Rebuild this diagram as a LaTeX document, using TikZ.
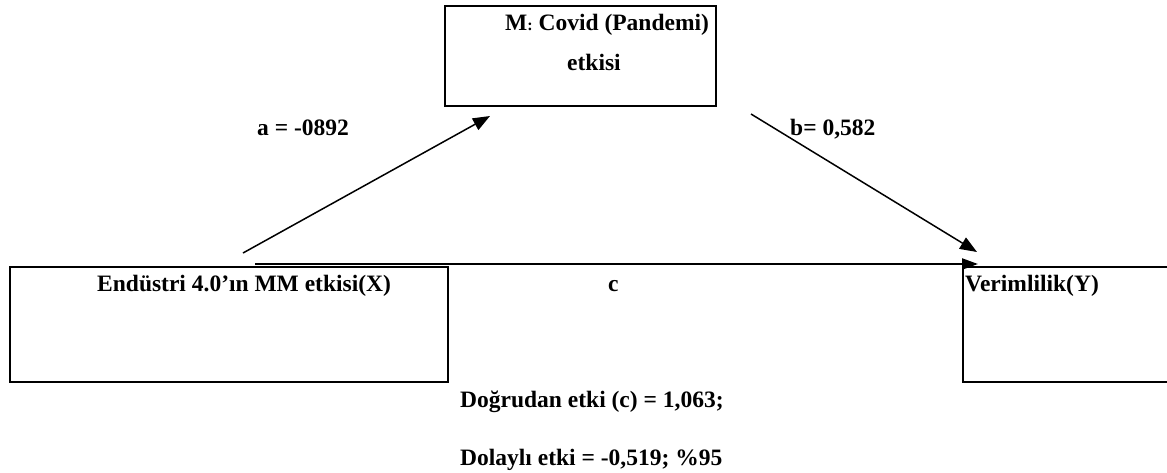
\documentclass[tikz,border=0pt]{standalone}
\usepackage{fontspec}
\setmainfont{Liberation Serif}
\usetikzlibrary{arrows.meta}
\usetikzlibrary{positioning}

\begin{document}
\begin{tikzpicture}[x=1pt,y=-1pt,
->,>={Triangle[length=17pt,width=13pt]},
box/.style = {rectangle, draw=black, line width=2.2pt, inner sep=0pt, anchor=north west},
txt/.style = {anchor=base west, inner sep=0pt, font=\fontsize{23.5}{28}\selectfont\bfseries},
path_ab/.style = {line width=1.5pt},
path_c/.style = {line width=2.2pt}
]
\useasboundingbox (0,0) rectangle (1167,472);

\node (M) [box, minimum width=271pt, minimum height=100pt] at (444,5) {};
\node (X) [box, minimum width=438pt, minimum height=115pt] at (9,266) {};
\node (Y) [box, minimum width=260pt, minimum height=115pt] at (962,266) {};

\node (Mt) [txt] at (505,30) {M{\fontsize{16}{18}\selectfont:} Covid (Pandemi)};
\node (Me) [txt] at (567,70) {etkisi};
\node (Xt) [txt] at (97,291) {Endüstri 4.0’ın MM etkisi(X)};
\node (Yt) [txt] at (965,291) {Verimlilik(Y)};

\node (la) [txt] at (257,135) {a = -0892};
\node (lb) [txt] at (790,135) {b= 0,582};
\node (lc) [txt] at (608,291) {c};

\node (D1) [txt] at (460,407) {Doğrudan etki (c) = 1,063;};
\node (D2) [txt] at (460,465) {Dolaylı etki = -0,519; \%95};

\coordinate (a0) at (243,253);
\coordinate (a1) at (490,116);
\coordinate (b0) at (751,114);
\coordinate (b1) at (977,252);
\coordinate (c0) at (255,264);
\coordinate (c1) at (978,264);

\draw[path_ab] (a0) -- (a1);
\draw[path_ab] (b0) -- (b1);
\draw[path_c, >={Triangle[length=16pt,width=11pt]}] (c0) -- (c1);
\end{tikzpicture}
\end{document}
